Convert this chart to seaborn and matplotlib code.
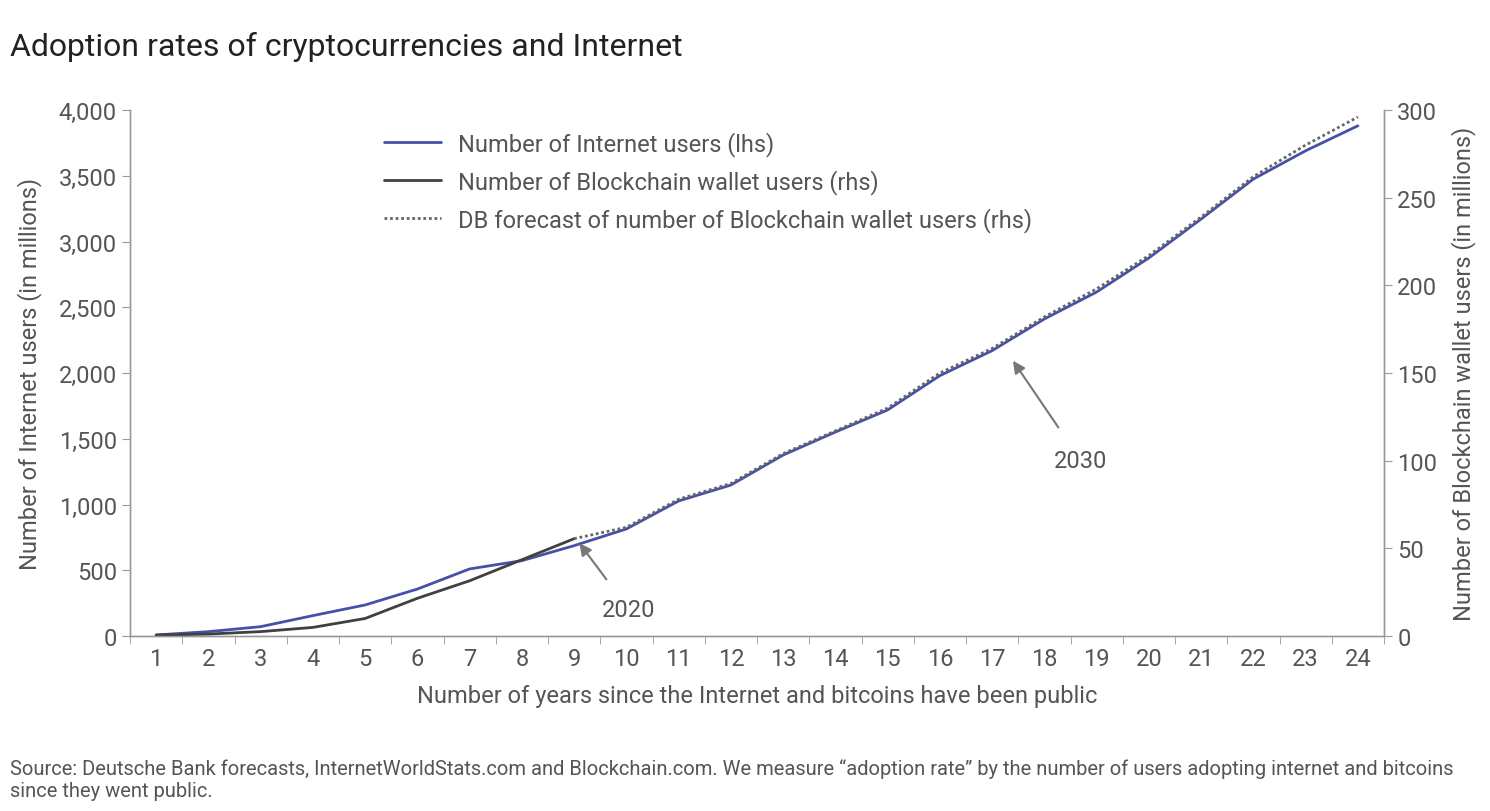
import numpy as np
import pandas as pd
import matplotlib.pyplot as plt
import seaborn as sns

years = list(range(1, 25))
internet_users = [8, 33, 71, 155, 236, 357, 510, 573, 687, 814, 1027, 1148, 1376, 1551,
                  1719, 1980, 2170, 2411, 2616, 2875, 3171, 3475, 3690, 3880]
wallet_years = list(range(1, 10))
wallet_users = [0.5, 1.1, 2.5, 4.9, 10, 21.5, 31.5, 43.5, 55.5]
forecast_years = list(range(9, 25))
forecast_users = [55.5, 62, 78, 87, 104, 117, 130, 150, 164, 182, 198, 217, 239, 262, 280, 296]

df_net = pd.DataFrame({'year': years, 'users': internet_users})
df_wal = pd.DataFrame({'year': wallet_years, 'users': wallet_users})
df_fc = pd.DataFrame({'year': forecast_years, 'users': forecast_users})

sns.set_style('ticks')
plt.rcParams['font.family'] = ['Roboto', 'DejaVu Sans']
grey = '#555555'
blue = '#4750a8'
fs = 17

fig = plt.figure(figsize=(14.9, 8.12), dpi=100)
ax = fig.add_axes([130/1490, 1 - 637/812, (1384-130)/1490, (637-111)/812])
ax2 = ax.twinx()

sns.lineplot(data=df_net, x='year', y='users', ax=ax, color=blue, lw=2,
             label='Number of Internet users (lhs)', legend=False)
sns.lineplot(data=df_wal, x='year', y='users', ax=ax2, color='#404040', lw=2,
             label='Number of Blockchain wallet users (rhs)', legend=False)
sns.lineplot(data=df_fc, x='year', y='users', ax=ax2, color='#666666', lw=2,
             linestyle=(0, (1, 1)),
             label='DB forecast of number of Blockchain wallet users (rhs)', legend=False)

ax.set_xlim(0.5, 24.5)
ax.set_ylim(0, 4000)
ax2.set_ylim(0, 300)
ax.set_yticks(range(0, 4001, 500))
ax.set_yticklabels([f'{v:,}' for v in range(0, 4001, 500)])
ax2.set_yticks(range(0, 301, 50))
ax.set_xticks(years)
ax.set_xticks(np.arange(0.5, 25, 1), minor=True)
ax.tick_params(axis='x', which='major', length=0, labelsize=fs, labelcolor=grey, pad=8)
ax.tick_params(axis='x', which='minor', length=6, color='#999999')
ax.tick_params(axis='y', length=6, color='#999999', labelsize=fs, labelcolor=grey)
ax2.tick_params(axis='y', length=6, color='#999999', labelsize=fs, labelcolor=grey)

for a in (ax, ax2):
    a.spines['top'].set_visible(False)
    for s in ('left', 'right', 'bottom'):
        a.spines[s].set_color('#999999')
        a.spines[s].set_linewidth(1)

ax.set_xlabel('Number of years since the Internet and bitcoins have been public',
              fontsize=fs, color=grey, labelpad=10)
ax.set_ylabel('Number of Internet users (in millions)', fontsize=fs, color=grey, labelpad=12)
ax2.set_ylabel('Number of Blockchain wallet users (in millions)', fontsize=fs, color=grey,
               labelpad=10, rotation=90)

h1, l1 = ax.get_legend_handles_labels()
h2, l2 = ax2.get_legend_handles_labels()
leg = ax2.legend(h1 + h2, l1 + l2, loc='upper left', bbox_to_anchor=(0.186, 1.0),
                 frameon=False, fontsize=fs, handlelength=2.4, handletextpad=0.7,
                 labelspacing=0.55)
for t in leg.get_texts():
    t.set_color(grey)

ax2.annotate('2020', xy=(9.1, 53), xytext=(10.05, 15), xycoords='data', textcoords='data',
             fontsize=fs, color=grey, ha='center', va='center',
             arrowprops=dict(arrowstyle='-|>', color='#777777', lw=1.5, shrinkB=0,
                             shrinkA=14, mutation_scale=18))
ax2.annotate('2030', xy=(17.4, 157), xytext=(18.7, 100), xycoords='data', textcoords='data',
             fontsize=fs, color=grey, ha='center', va='center',
             arrowprops=dict(arrowstyle='-|>', color='#777777', lw=1.5, shrinkB=0,
                             shrinkA=16, mutation_scale=18))

fig.text(10/1490, 1 - 47/812, 'Adoption rates of cryptocurrencies and Internet',
         fontsize=23, color='#222222', va='center')
fig.text(10/1490, 1 - 780/812,
         'Source: Deutsche Bank forecasts, InternetWorldStats.com and Blockchain.com. '
         'We measure \u201cadoption rate\u201d by the number of users adopting internet and bitcoins\n'
         'since they went public.', fontsize=14.5, color=grey, va='center', linespacing=1.2)

fig.savefig('out.png', dpi=100)
